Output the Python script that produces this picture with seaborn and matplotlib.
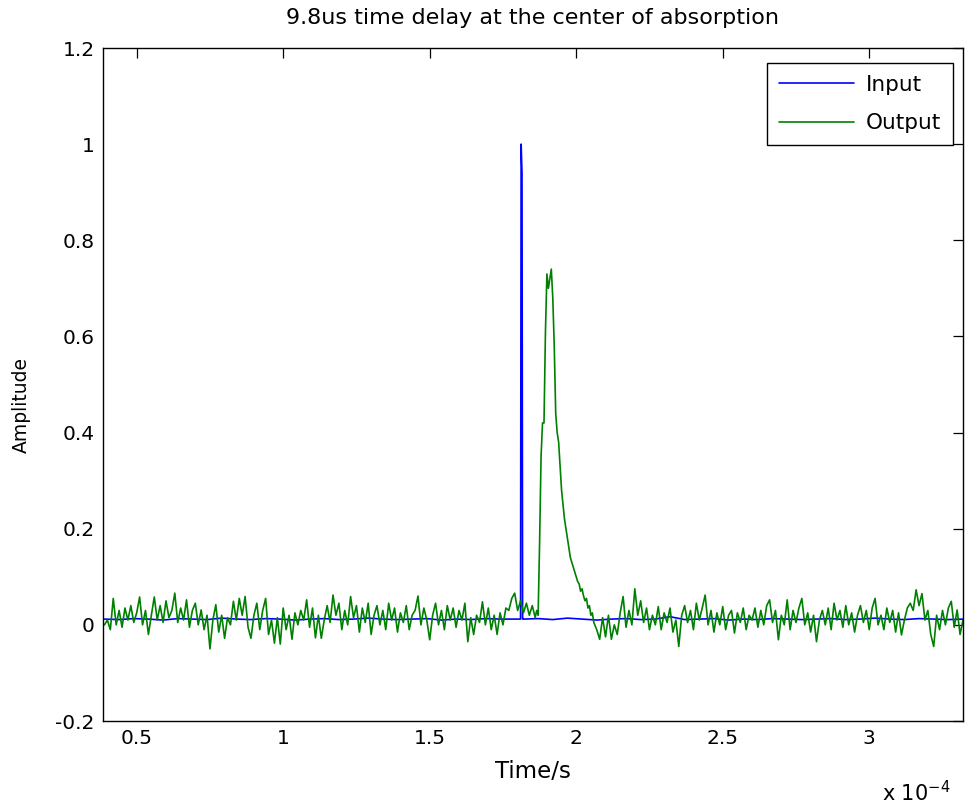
import numpy as np
import pandas as pd
import matplotlib
matplotlib.use("Agg")
import matplotlib.pyplot as plt
import seaborn as sns

# ---------------- data (time in units of 1e-4 s) ----------------
TIME_SCALE = 1e-4
STEP = 0.01

# Output (green) trace, baseline segments sampled every 0.01e-4 s
out_a_start = 0.39
out_a = [0.00, 0.01, -0.01, 0.055, 0.00, 0.03, -0.005, 0.035, 0.01, 0.04,
         0.005, 0.025, 0.058, 0.00, 0.03, -0.02, 0.02, 0.058, 0.01, 0.04,
         0.005, 0.05, 0.015, 0.03, 0.066, 0.005, 0.035, 0.01, 0.052, -0.005,
         0.03, 0.045, 0.00, 0.031, -0.01, 0.02, -0.05, 0.01, 0.042, -0.015,
         0.02, -0.028, 0.015, 0.00, 0.049, 0.01, 0.055, 0.02, 0.059, -0.005,
         -0.028, 0.02, 0.045, -0.01, 0.03, 0.055, -0.02, 0.01, -0.038, 0.015,
         -0.04]
out_b_start = 1.00
out_b = [0.035, -0.01, 0.02, -0.03, 0.025, 0.00, 0.03, 0.01, 0.052, -0.005,
         0.035, -0.027, 0.02, -0.028, 0.01, 0.04, 0.005, 0.062, 0.02, 0.045,
         -0.01, 0.03, 0.00, 0.059, 0.015, 0.04, -0.015, 0.035, 0.005, 0.045,
         -0.02, 0.02, 0.04, 0.00, 0.03, -0.01, 0.045, 0.01, 0.035, -0.015,
         0.025, 0.005, 0.04, -0.01, 0.02, 0.03, 0.06, 0.00, 0.035, 0.01]
out_c_start = 1.50
out_c = [-0.031, 0.02, 0.045, 0.00, 0.03, -0.01, 0.04, 0.01, 0.035, -0.005,
         0.03, 0.01, 0.045, -0.035, 0.015, -0.02, 0.02, 0.005, 0.048, 0.00,
         0.035, -0.01, 0.02, -0.02, 0.025, 0.00, 0.035, 0.03, 0.055, 0.066,
         0.03, 0.05, 0.025, 0.045, 0.02, 0.04, 0.015]
# delayed pulse, sampled every 0.005e-4 s
peak_start = 1.865
PEAK_STEP = 0.005
out_peak = [0.03, 0.02, 0.17, 0.35, 0.42, 0.42, 0.61, 0.73, 0.70, 0.72,
            0.74, 0.68, 0.58, 0.44, 0.40, 0.38, 0.33, 0.28, 0.25, 0.22,
            0.20, 0.18, 0.16, 0.14, 0.13, 0.12, 0.11, 0.10, 0.09, 0.085,
            0.07, 0.075, 0.06, 0.05, 0.055, 0.035, 0.04, 0.02, 0.025, 0.005]
out_d_start = 2.07
out_d = [-0.01, -0.03, 0.015, -0.025, 0.02, -0.03, 0.00, -0.02, 0.025, 0.059,
         -0.005, 0.03, 0.00, 0.075, 0.02, 0.05, 0.005, 0.035, -0.01, 0.02,
         0.00, 0.038, -0.01, 0.025, 0.005, 0.035, -0.015, 0.01, -0.045, 0.02,
         0.04, 0.005, 0.03, -0.01, 0.045, 0.01, 0.035, 0.062, 0.00, 0.03,
         -0.015, 0.025, 0.00, 0.038, -0.01, 0.02, 0.03, -0.017, 0.025, 0.005,
         0.035, -0.01, 0.02, 0.01, 0.035, -0.005, 0.03, 0.00, 0.04, 0.052,
         0.005, 0.03, -0.031, 0.02, 0.00, 0.052, -0.01, 0.03, 0.005, 0.035,
         0.055, 0.00, 0.025, -0.015, 0.02, -0.035, 0.01, 0.03, 0.00, 0.035,
         -0.01, 0.045, 0.01, 0.03, -0.005, 0.04, 0.00, 0.025, -0.015, 0.02,
         0.04, 0.005, 0.03, -0.01, 0.035, 0.055, 0.00, 0.02, -0.01, 0.035,
         0.005, 0.03, -0.015, 0.025, -0.021, 0.01, 0.035, 0.045, 0.03, 0.073,
         0.04, 0.065, 0.01, 0.03, -0.02, -0.045, 0.02, -0.01, 0.03, 0.00,
         0.035, 0.049, -0.005, 0.031, -0.02, 0.01]

# Input (blue) trace
BLUE_STEP = 0.05
in_pre_start = 0.39
in_pre = [0.012, 0.011, 0.013, 0.012, 0.010, 0.013, 0.012, 0.011, 0.014, 0.012,
          0.011, 0.013, 0.012, 0.010, 0.012, 0.013, 0.011, 0.012, 0.014, 0.012,
          0.011, 0.012, 0.013, 0.010, 0.012, 0.011, 0.013, 0.012, 0.012]
in_spike_t = [1.810, 1.812, 1.815, 1.817]
in_spike = [0.012, 1.00, 0.94, 0.012]
in_post_start = 1.82
in_post = [0.012, 0.013, 0.011, 0.014, 0.012, 0.010, 0.012, 0.013, 0.011, 0.012,
           0.017, 0.011, 0.012, 0.013, 0.010, 0.012, 0.011, 0.013, 0.012, 0.011,
           0.012, 0.013, 0.011, 0.012, 0.014, 0.012, 0.011, 0.013, 0.012, 0.011,
           0.012]

x_ticks = [0.5, 1, 1.5, 2, 2.5, 3]
x_tick_labels = ["0.5", "1", "1.5", "2", "2.5", "3"]
y_ticks = [-0.2, 0, 0.2, 0.4, 0.6, 0.8, 1.0, 1.2]
y_tick_labels = ["-0.2", "0", "0.2", "0.4", "0.6", "0.8", "1", "1.2"]
x_range = [0.385, 3.32]
y_range = [-0.2, 1.2]


def seg(start, step, vals):
    return start + step * np.arange(len(vals))


out_t = np.concatenate([seg(out_a_start, STEP, out_a), seg(out_b_start, STEP, out_b),
                        seg(out_c_start, STEP, out_c), seg(peak_start, PEAK_STEP, out_peak),
                        seg(out_d_start, STEP, out_d)])
out_v = np.concatenate([out_a, out_b, out_c, out_peak, out_d])
in_t = np.concatenate([seg(in_pre_start, BLUE_STEP, in_pre), in_spike_t,
                       seg(in_post_start, BLUE_STEP, in_post)])
in_v = np.concatenate([in_pre, in_spike, in_post])

df = pd.concat([
    pd.DataFrame({"t": in_t * TIME_SCALE, "amp": in_v, "signal": "Input"}),
    pd.DataFrame({"t": out_t * TIME_SCALE, "amp": out_v, "signal": "Output"}),
], ignore_index=True)

# ---------------- plot ----------------
sns.set_style("white")
plt.rcParams["font.family"] = ["DejaVu Sans"]
plt.rcParams["text.color"] = "black"
plt.rcParams["axes.labelcolor"] = "black"

W, H = 965, 805
fig = plt.figure(figsize=(W / 100, H / 100), dpi=100)
ax = fig.add_axes([103 / W, 1 - 721 / H, (963 - 103) / W, (721 - 48) / H])

sns.lineplot(data=df, x="t", y="amp", hue="signal", sort=False, estimator=None,
             palette={"Input": (0, 0, 1), "Output": (0, 0.5, 0)},
             linewidth=1.2, ax=ax)

ax.set_xlim(x_range[0] * TIME_SCALE, x_range[1] * TIME_SCALE)
ax.set_ylim(*y_range)
ax.set_xticks([v * TIME_SCALE for v in x_ticks])
ax.set_xticklabels(x_tick_labels)
ax.set_yticks(y_ticks)
ax.set_yticklabels(y_tick_labels)

ax.tick_params(direction="in", length=7, width=0.9, top=True, right=True,
               labelsize=14.5, pad=6, colors="black")
for s in ax.spines.values():
    s.set_visible(True)
    s.set_color("black")
    s.set_linewidth(1.0)

ax.set_xlabel("Time/s", fontsize=16.5, color="black")
ax.xaxis.set_label_coords(0.5, (721 - 760) / 673)
ax.set_ylabel("Amplitude", fontsize=13.5, color="black")
ax.yaxis.set_label_coords((31 - 103) / 860, (721 - 405) / 673)
ax.set_title("9.8us time delay at the center of absorption", fontsize=16,
             pad=0, y=1 + (48 - 18) / 673, va="center", color="black")
ax.text((950 - 103) / 860, (721 - 793) / 673, r"x 10$^{-4}$", transform=ax.transAxes,
        ha="right", va="center", fontsize=15, color="black")

leg = ax.legend(loc="upper right", bbox_to_anchor=(953 / W, 1 - 63 / H),
                bbox_transform=fig.transFigure, borderaxespad=0,
                fontsize=15.5, frameon=True, fancybox=False,
                edgecolor="black", framealpha=1, handlelength=3.5,
                handletextpad=0.55, borderpad=0.55, labelspacing=0.85)
leg.get_frame().set_linewidth(1.0)
for line in leg.get_lines():
    line.set_linewidth(1.2)
for txt in leg.get_texts():
    txt.set_color("black")

fig.savefig("out.png", dpi=100)
